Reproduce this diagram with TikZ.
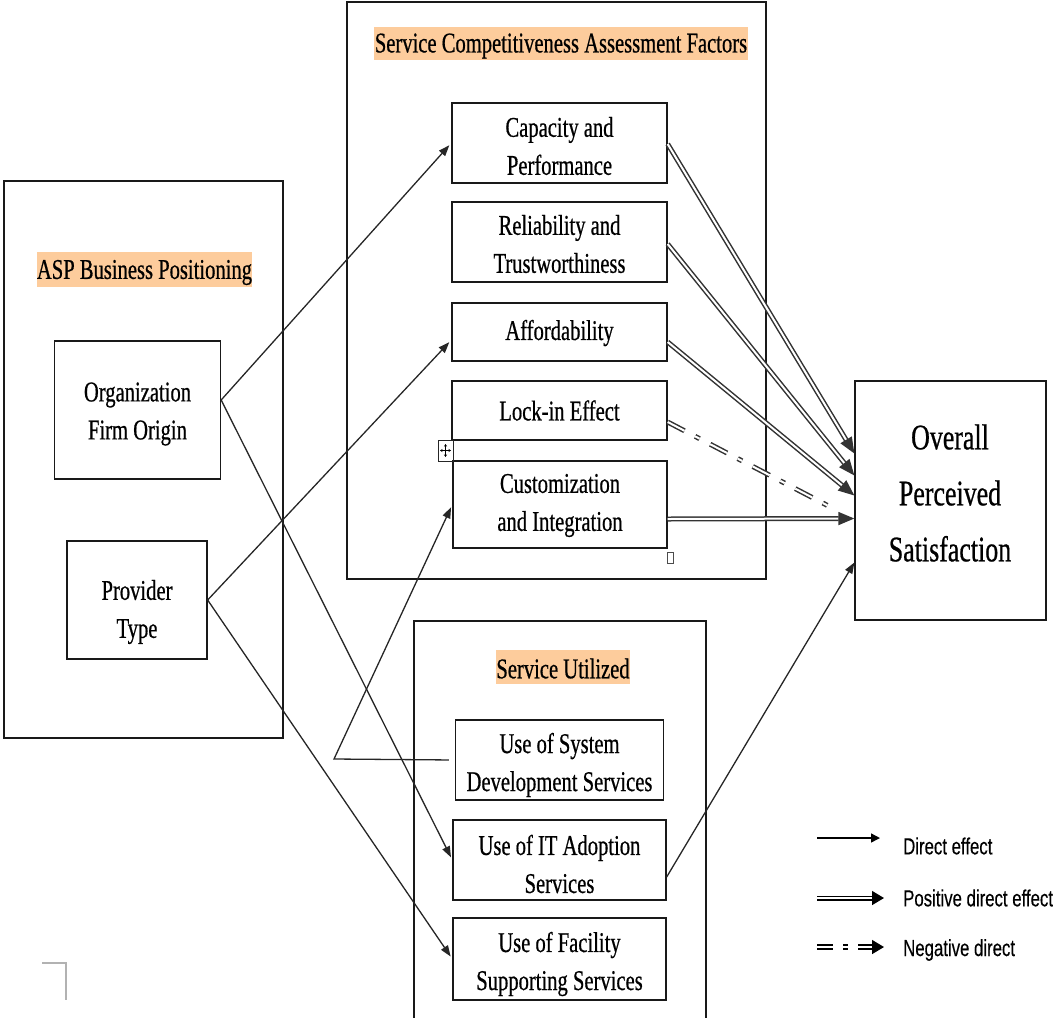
\documentclass[tikz,border=0pt]{standalone}
\usepackage{fontspec}
\setmainfont{Liberation Serif}[FakeStretch=0.72,FakeBold=0.6]
\newfontfamily\legfont{Liberation Sans}[FakeStretch=0.72,FakeBold=0.3]
\usetikzlibrary{arrows.meta,calc}
\definecolor{headbg}{RGB}{253,204,156}
\begin{document}
\begin{tikzpicture}[x=1pt,y=-1pt,
  box/.style={draw=black!90, line width=1.3pt, rectangle, inner sep=0pt},
  txt/.style={align=center, font=\fontsize{28.6}{38}\selectfont, inner sep=0pt},
  bigtxt/.style={align=center, font=\fontsize{36}{56}\selectfont, inner sep=0pt},
  head/.style={fill=headbg, inner sep=0pt},
  legtxt/.style={anchor=west, inner sep=0pt, font=\legfont\fontsize{23.3}{28}\selectfont},
  conn/.style={draw=black!85, line width=1.3pt, -{Triangle[length=11pt,width=8pt]}, shorten >=3pt},
  posfx/.style={draw=black!80, line width=1.5pt, double=white, double distance=2pt, -{Triangle[length=16pt,width=13pt]}},
  negfx/.style={draw=black!80, line width=1.5pt, double=white, double distance=2pt, dash pattern=on 19pt off 12pt on 5pt off 12pt},
]
\useasboundingbox (0,0) rectangle (1056,1017);

% group frames
\node[box, minimum width=279pt, minimum height=557pt] (aspframe) at (143.5,459.5) {};
\node[box, minimum width=419pt, minimum height=577pt] (scaframe) at (556.5,290.5) {};
\node[box, minimum width=292pt, minimum height=410pt] (suframe) at (560,826) {};

% headings
\node[head, minimum width=374pt, minimum height=33pt, label={[txt, yshift=-2.5pt]center:{Service Competitiveness Assessment Factors}}] (scahead) at (561,43.5) {};
\node[head, minimum width=215pt, minimum height=35pt, label={[txt, yshift=-3pt]center:{ASP Business Positioning}}] (asphead) at (144.5,269.5) {};
\node[head, minimum width=134pt, minimum height=34pt, label={[txt, yshift=-1.5pt]center:{Service Utilized}}] (suhead) at (563,667) {};

% ASP boxes
\node[box, minimum width=166pt, minimum height=138pt, label={[txt, yshift=-4pt]center:{Organization\\Firm Origin}}] (org) at (137.5,410) {};
\node[box, minimum width=140pt, minimum height=118pt, label={[txt, yshift=-12pt]center:{Provider\\Type}}] (prov) at (137,600) {};

% SCA boxes
\node[box, minimum width=215pt, minimum height=80pt, label={[txt, yshift=-3pt]center:{Capacity and\\Performance}}] (cap) at (559.5,143) {};
\node[box, minimum width=215pt, minimum height=80pt, label={[txt, yshift=-2pt]center:{Reliability and\\Trustworthiness}}] (rel) at (559.5,242) {};
\node[box, minimum width=215pt, minimum height=58pt, label={[txt, yshift=-1pt]center:{Affordability}}] (aff) at (559.5,332) {};
\node[box, minimum width=215pt, minimum height=59pt, label={[txt]center:{Lock-in Effect}}] (lock) at (559.5,410.5) {};
\node[box, minimum width=214pt, minimum height=87pt, label={[txt, yshift=-1pt]center:{Customization\\and Integration}}] (cust) at (560,504.5) {};

% SU boxes
\node[box, minimum width=208pt, minimum height=80pt, label={[txt, yshift=-5pt]center:{Use of System\\Development Services}}] (sysdev) at (559.5,760) {};
\node[box, minimum width=213pt, minimum height=80pt, label={[txt, yshift=-4pt]center:{Use of IT Adoption\\Services}}] (itad) at (559.5,860) {};
\node[box, minimum width=213pt, minimum height=82pt, label={[txt, yshift=-5pt]center:{Use of Facility\\Supporting Services}}] (fac) at (559.5,959) {};

% outcome
\node[box, minimum width=191pt, minimum height=239pt] (overall) at (950.5,500.5) {};
\node[bigtxt] (overalltxt) at (950,493) {Overall\\Perceived\\Satisfaction};

% small editor marks
\node[draw=black!85, line width=1pt, minimum width=15pt, minimum height=21pt, inner sep=0pt] (movebox) at (445.5,450.5) {};
\draw[line width=0.8pt, {Stealth[length=2.5pt,width=3pt]}-{Stealth[length=2.5pt,width=3pt]}] ($(movebox.center)+(0,-6.5)$) -- ($(movebox.center)+(0,6.5)$);
\draw[line width=0.8pt, {Stealth[length=2.5pt,width=3pt]}-{Stealth[length=2.5pt,width=3pt]}] ($(movebox.center)+(-5.5,0)$) -- ($(movebox.center)+(5.5,0)$);
\node[draw=black!70, line width=1pt, minimum width=6pt, minimum height=11pt, inner sep=0pt] (handle) at (670,557.5) {};
\draw[black!30, line width=2pt] (42,963) -- (66,963) -- (66,1000);

% direct-effect connectors
\draw[conn] ([yshift=10pt]org.east) -- (cap.west);
\draw[conn] ([yshift=10pt]org.east) -- (itad.west);
\draw[conn] (prov.east) -- ([yshift=-8pt]aff.west);
\draw[conn] (prov.east) -- (fac.west);
\coordinate (bend) at (334,759);
\draw[conn, shorten <=6pt] (sysdev.west) -- (bend) -- (cust.west);
\draw[conn, shorten >=0pt] ([yshift=-17pt]itad.east) -- ([yshift=-62pt]overall.west);

% positive direct effects
\draw[posfx] ([yshift=-1pt]cap.east) -- ([yshift=47pt]overall.west);
\draw[posfx] ([yshift=-2pt]rel.east) -- ([yshift=25pt]overall.west);
\draw[posfx] ([yshift=-10pt]aff.east) -- ([yshift=5pt]overall.west);
\draw[posfx] ([yshift=-14.5pt]cust.east) -- ([yshift=-18pt]overall.west);

% negative direct effect
\draw[negfx, shorten >=27pt] ([yshift=-11.5pt]lock.east) -- ([yshift=-19pt]overall.west);

% legend
\coordinate (l1a) at (817,838); \coordinate (l1b) at (880,838);
\coordinate (l2a) at (817,898); \coordinate (l2b) at (884,898);
\coordinate (l3a) at (817,947); \coordinate (l3b) at (884,947);
\draw[draw=black, line width=1.4pt, -{Triangle[length=9pt,width=9pt]}] (l1a) -- (l1b);
\draw[draw=black, line width=1.5pt, double=white, double distance=2pt, -{Triangle[length=12pt,width=14pt]}] (l2a) -- (l2b);
\draw[draw=black, line width=1.6pt, double=white, double distance=2pt, dash pattern=on 16pt off 10pt on 5pt off 10pt on 40pt, -{Triangle[length=12pt,width=14pt]}] (l3a) -- (l3b);
\node[legtxt] (leg1) at (903,846) {Direct effect};
\node[legtxt] (leg2) at (903,898) {Positive direct effect};
\node[legtxt] (leg3) at (903,950) {Negative direct};
\end{tikzpicture}
\end{document}
